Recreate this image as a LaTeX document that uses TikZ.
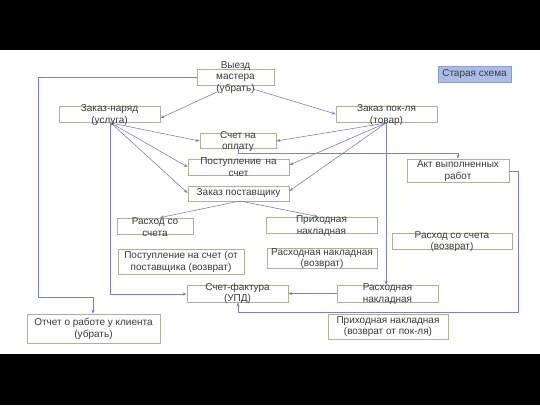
\documentclass[tikz,border=0pt]{standalone}
\usepackage{fontspec}
\setmainfont{Liberation Sans}
\usetikzlibrary{arrows.meta}
\definecolor{linec}{HTML}{7C80C4}
\definecolor{boxc}{HTML}{AAB48E}
\definecolor{txtc}{HTML}{3A3A3A}
\definecolor{oldfill}{HTML}{AABDE8}
\definecolor{oldline}{HTML}{8A9CD0}
\tikzset{
  box/.style={draw=boxc, line width=0.8pt, inner sep=0pt, fill=white},
  txt/.style={inner sep=0pt, align=center, text=txtc, font=\fontsize{10}{11.8}\selectfont},
  conn/.style={draw=linec, line width=0.6pt},
  arr/.style={conn, -{Stealth[length=4pt,width=3.2pt]}}
}
\begin{document}
\begin{tikzpicture}[x=1pt,y=-1pt]
\useasboundingbox (0,0) rectangle (540,405);
\fill[black] (0,0) rectangle (540,50);
\fill[black] (0,354) rectangle (540,405);
% boxes
\node[box, minimum width=77pt, minimum height=16pt] (vyezd) at (235.5,77) {};
\node[box, minimum width=101pt, minimum height=16pt] (zn) at (109.5,114) {};
\node[box, minimum width=76pt, minimum height=15pt] (schet) at (238,141) {};
\node[box, minimum width=101pt, minimum height=16pt] (zpk) at (386.5,114) {};
\node[draw=oldline, fill=oldfill, line width=0.8pt, inner sep=0pt, minimum width=73pt, minimum height=16pt, text=txtc, font=\fontsize{10}{11.8}\selectfont] (old) at (474.5,74) {Старая схема};
\node[box, minimum width=101pt, minimum height=16pt] (post) at (238.5,167) {};
\node[box, minimum width=101pt, minimum height=15pt] (zpost) at (238.5,193.5) {};
\node[box, minimum width=76pt, minimum height=16pt] (rss) at (155,226) {};
\node[box, minimum width=111pt, minimum height=16pt] (prn) at (321.5,225) {};
\node[box, minimum width=102pt, minimum height=23pt] (akt) at (458,170.5) {};
\node[box, minimum width=120pt, minimum height=16pt] (rssv) at (452,241) {};
\node[box, minimum width=126pt, minimum height=25pt] (postv) at (181,261.5) {};
\node[box, minimum width=110pt, minimum height=20pt] (rnv) at (322,258) {};
\node[box, minimum width=101pt, minimum height=17pt] (sf) at (237.5,293.5) {};
\node[box, minimum width=101pt, minimum height=17pt] (rn) at (387.5,293.5) {};
\node[box, minimum width=133pt, minimum height=29pt] (otchet) at (93.5,328.5) {};
\node[box, minimum width=120pt, minimum height=25pt] (prnv) at (388,326.5) {};
% connectors
\coordinate (vyL) at (38,77);
\coordinate (vyD) at (38,297);
\coordinate (otU) at (93,297);
\draw[arr] (vyezd.west) -- (vyL) -- (vyD) -- (otU) -- (otchet.north -| otU);
\coordinate (vyA) at (217,92);
\coordinate (vyB) at (253,89);
\draw[arr] (vyA) -- (zn.east |- 0,118);
\draw[arr] (vyB) -- (zpk.west |- 0,114);
\coordinate (P) at (111,123);
\draw[arr] (P) -- (schet.west |- 0,141);
\draw[arr] (P) -- (post.west |- 0,167);
\draw[arr] (P) -- (zpost.west |- 0,193);
\coordinate (Pd) at (110,294);
\draw[arr] (P -| Pd) -- (Pd) -- (sf.west |- Pd);
\coordinate (Q) at (386,123);
\draw[arr] (Q) -- (schet.east |- 0,141);
\draw[arr] (Q) -- (post.east |- 0,165);
\draw[arr] (Q) -- (zpost.east |- 0,191);
\draw[arr] (Q) -- (rn.north -| Q);
\coordinate (sc1) at (238,153);
\coordinate (sc2) at (458,153);
\draw[arr] (schet.south -| sc1) -- (sc1) -- (sc2) -- (akt.north -| sc2);
\coordinate (ak1) at (518,171);
\coordinate (ak2) at (518,312);
\coordinate (ak3) at (238,312);
\draw[arr] (akt.east |- ak1) -- (ak1) -- (ak2) -- (ak3) -- (sf.south -| ak3);
\draw[arr] (rn.west) -- (sf.east);
\coordinate (zp) at (240,201);
\draw[arr] (zp) -- (rss.north -| 160,0);
\draw[arr] (zp) -- (prn.north -| 318,0);
% texts
\node[txt] (vyezdt) at (235.5,77.5) {Выезд\\мастера\\(убрать)};
\node[txt] (znt) at (109.5,115) {Заказ-наряд\\(услуга)};
\node[txt] (schett) at (238,141.5) {Счет на\\оплату};
\node[txt] (zpkt) at (386.5,115) {Заказ пок-ля\\(товар)};
\node[txt] (postt) at (238.5,167.5) {Поступление\, на\\счет};
\node[txt] (zpostt) at (238.5,193.5) {Заказ поставщику};
\node[txt] (rsst) at (155,227) {Расход со\\счета};
\node[txt] (prnt) at (321.5,226) {Приходная\\накладная};
\node[txt] (aktt) at (458,171) {Акт выполненных\\работ};
\node[txt] (rssvt) at (452,241.5) {Расход со счета\\(возврат)};
\node[txt] (postvt) at (181,262) {Поступление на счет (от\\поставщика (возврат)};
\node[txt] (rnvt) at (322,258.5) {Расходная накладная\\(возврат)};
\node[txt] (sft) at (237.5,293.5) {Счет-фактура\\(УПД)};
\node[txt] (rnt) at (387.5,294) {Расходная\\накладная};
\node[txt] (otchett) at (93.5,328.5) {Отчет о работе у клиента\\(убрать)};
\node[txt] (prnvt) at (388,326.5) {Приходная накладная\\(возврат от пок-ля)};
\end{tikzpicture}
\end{document}
